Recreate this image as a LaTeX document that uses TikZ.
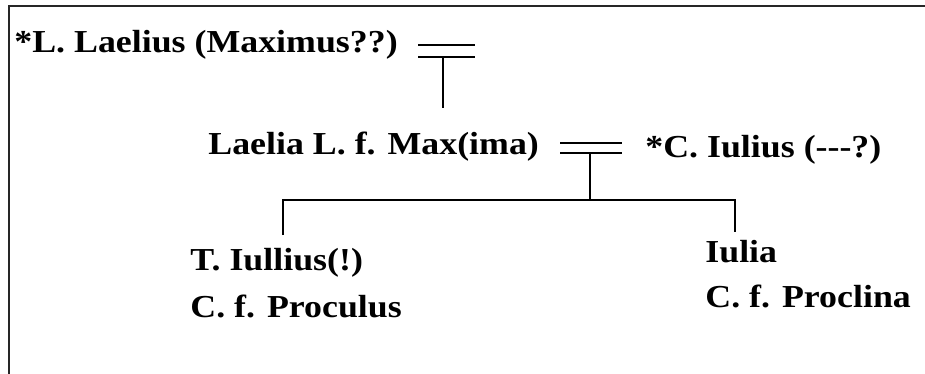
\documentclass[tikz,border=0pt]{standalone}
\usepackage{fontspec}
\setmainfont{Liberation Serif}[FakeStretch=1.12]
\usepackage{tikz}
\usetikzlibrary{calc}

\begin{document}
\begin{tikzpicture}[
  x=0.5pt, y=-0.5pt,
  person/.style={anchor=base west, inner sep=0pt, font=\fontsize{16}{19}\selectfont\bfseries},
  line/.style={line width=1pt, color=black},
  frame/.style={line width=0.8pt, color=black!85}
]
  \useasboundingbox (0,0) rectangle (925,374);
  \draw[frame] (925,6) -- (9,6) -- (9,374);

  \node[person] (lucius) at (14,53) {*L. Laelius (Maximus??)};
  \node[person] (laelia) at (208,155) {Laelia L. f. Max(ima)};
  \node[person] (gaius) at (645,157) {*C. Iulius (-{}-{}-?)};
  \node[person] (titus) at (190,270) {T. Iullius(!)};
  \node[person] (titusf) at (190,317) {C. f. Proculus};
  \node[person] (iulia) at (705,262) {Iulia};
  \node[person] (iuliaf) at (705,307) {C. f. Proclina};

  % marriage signs
  \coordinate (wed1) at (446,51);
  \coordinate (wed2) at (591,148);
  \draw[line] ($(wed1)+(-28,-6)$) -- ++(57,0);
  \draw[line] ($(wed1)+(-28,6)$) -- ++(57,0);
  \draw[line] ($(wed2)+(-31,-5)$) -- ++(62,0);
  \draw[line] ($(wed2)+(-31,5)$) -- ++(62,0);

  % descent
  \coordinate (fork) at (590,200);
  \coordinate (titusup) at (283,235);
  \coordinate (iuliaup) at (735,232);
  \draw[line] ($(wed1)+(-3,6)$) -- ++(0,51);
  \draw[line] ($(wed2)+(-1,5)$) -- (fork);
  \draw[line] (titusup) |- (fork);
  \draw[line] (fork) -| (iuliaup);
\end{tikzpicture}
\end{document}
